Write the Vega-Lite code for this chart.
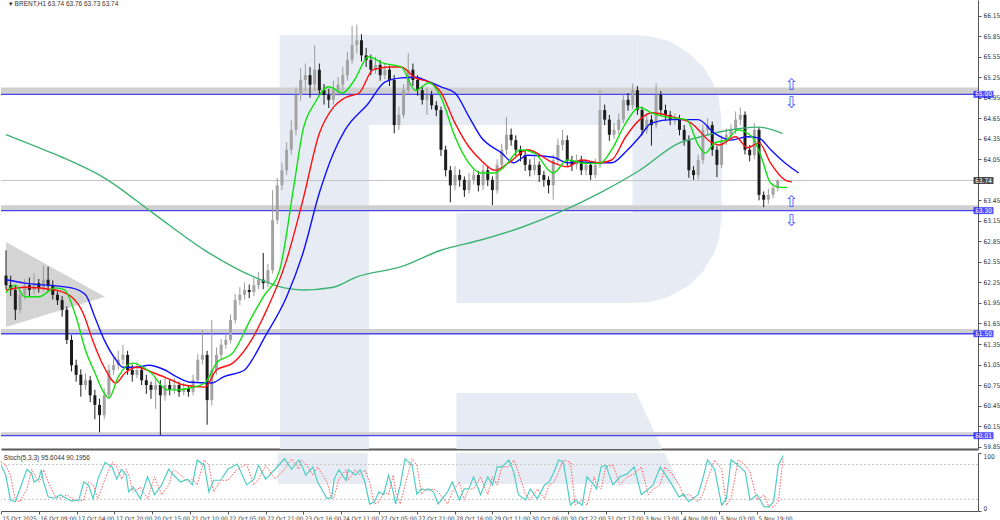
{
"$schema": "https://vega.github.io/schema/vega-lite/v6.json",
"padding": 0,
"background": "white",
"spacing": 1,
"resolve": {"scale": {"x": "independent", "y": "independent"}},
"config": {
 "view": {"stroke": null},
 "font": "Liberation Sans",
 "axis": {"labelFont": "'Liberation Sans Narrow', 'DejaVu Sans Condensed', 'Liberation Sans'", "labelFontSize": 6.5, "labelColor": "#333333", "tickColor": "#555555", "domainColor": "#555555", "grid": false, "labelOverlap": false, "labelBound": false},
 "text": {"font": "Liberation Sans"}
},
"datasets": {
 "candles": [
{"t":0,"o":62.35,"h":62.72,"l":62.15,"c":62.21},{"t":2,"o":62.21,"h":62.35,"l":62.05,"c":62.14},{"t":4,"o":62.14,"h":62.20,"l":61.70,"c":61.85},{"t":6,"o":61.85,"h":62.15,"l":61.80,"c":62.07},{"t":8,"o":62.07,"h":62.30,"l":62.00,"c":62.21},{"t":10,"o":62.21,"h":62.32,"l":62.05,"c":62.14},{"t":12,"o":62.14,"h":62.38,"l":62.08,"c":62.24},{"t":14,"o":62.24,"h":62.30,"l":62.10,"c":62.17},{"t":16,"o":62.17,"h":62.50,"l":62.12,"c":62.29},{"t":18,"o":62.29,"h":62.48,"l":62.12,"c":62.21},
{"t":20,"o":62.21,"h":62.28,"l":62.00,"c":62.07},{"t":22,"o":62.07,"h":62.12,"l":61.92,"c":61.99},{"t":24,"o":61.99,"h":62.05,"l":61.75,"c":61.85},{"t":26,"o":61.85,"h":61.90,"l":61.35,"c":61.41},{"t":28,"o":61.41,"h":61.48,"l":60.95,"c":61.04},{"t":30,"o":61.04,"h":61.12,"l":60.80,"c":60.90},{"t":32,"o":60.90,"h":60.98,"l":60.58,"c":60.75},{"t":34,"o":60.75,"h":60.92,"l":60.68,"c":60.82},{"t":36,"o":60.82,"h":60.88,"l":60.50,"c":60.60},{"t":38,"o":60.60,"h":60.68,"l":60.25,"c":60.46},
{"t":40,"o":60.46,"h":60.55,"l":60.06,"c":60.31},{"t":42,"o":60.31,"h":60.70,"l":60.25,"c":60.60},{"t":44,"o":60.60,"h":61.05,"l":60.55,"c":60.97},{"t":46,"o":60.97,"h":61.15,"l":60.90,"c":61.04},{"t":48,"o":61.04,"h":61.25,"l":60.98,"c":61.12},{"t":50,"o":61.12,"h":61.34,"l":61.05,"c":61.19},{"t":52,"o":61.19,"h":61.25,"l":60.90,"c":60.97},{"t":54,"o":60.97,"h":61.05,"l":60.80,"c":60.90},{"t":56,"o":60.90,"h":61.08,"l":60.85,"c":60.97},{"t":58,"o":60.97,"h":61.02,"l":60.75,"c":60.82},
{"t":60,"o":60.82,"h":60.90,"l":60.62,"c":60.75},{"t":62,"o":60.75,"h":60.80,"l":60.55,"c":60.68},{"t":64,"o":60.68,"h":60.85,"l":60.40,"c":60.75},{"t":66,"o":60.75,"h":60.82,"l":60.02,"c":60.60},{"t":68,"o":60.60,"h":60.85,"l":60.52,"c":60.75},{"t":70,"o":60.75,"h":60.82,"l":60.60,"c":60.68},{"t":72,"o":60.68,"h":60.85,"l":60.62,"c":60.75},{"t":74,"o":60.75,"h":60.80,"l":60.58,"c":60.65},{"t":76,"o":60.65,"h":60.78,"l":60.60,"c":60.70},{"t":78,"o":60.70,"h":60.75,"l":60.58,"c":60.65},
{"t":80,"o":60.65,"h":60.90,"l":60.60,"c":60.82},{"t":82,"o":60.82,"h":61.20,"l":60.78,"c":61.12},{"t":84,"o":61.12,"h":61.55,"l":61.05,"c":61.19},{"t":86,"o":61.19,"h":61.25,"l":60.17,"c":60.53},{"t":88,"o":60.53,"h":61.70,"l":60.45,"c":60.97},{"t":90,"o":60.97,"h":61.30,"l":60.90,"c":61.19},{"t":92,"o":61.19,"h":61.42,"l":61.12,"c":61.34},{"t":94,"o":61.34,"h":61.50,"l":61.28,"c":61.41},{"t":96,"o":61.41,"h":61.78,"l":61.36,"c":61.70},{"t":98,"o":61.70,"h":62.08,"l":61.65,"c":61.99},
{"t":100,"o":61.99,"h":62.18,"l":61.92,"c":62.07},{"t":102,"o":62.07,"h":62.25,"l":62.00,"c":62.14},{"t":104,"o":62.14,"h":62.22,"l":62.02,"c":62.11},{"t":106,"o":62.11,"h":62.32,"l":62.05,"c":62.21},{"t":108,"o":62.21,"h":62.40,"l":62.15,"c":62.29},{"t":110,"o":62.29,"h":62.68,"l":62.15,"c":62.24},{"t":112,"o":62.24,"h":62.52,"l":62.18,"c":62.43},{"t":114,"o":62.43,"h":63.60,"l":62.38,"c":63.16},{"t":116,"o":63.16,"h":63.78,"l":63.10,"c":63.67},{"t":118,"o":63.67,"h":64.00,"l":63.60,"c":63.89},
{"t":120,"o":63.89,"h":64.30,"l":63.82,"c":64.19},{"t":122,"o":64.19,"h":64.62,"l":64.12,"c":64.48},{"t":124,"o":64.48,"h":65.10,"l":64.40,"c":64.99},{"t":126,"o":64.99,"h":65.38,"l":64.90,"c":65.21},{"t":128,"o":65.21,"h":65.45,"l":65.05,"c":65.28},{"t":130,"o":65.28,"h":65.40,"l":64.95,"c":65.14},{"t":132,"o":65.14,"h":65.72,"l":65.05,"c":65.36},{"t":134,"o":65.36,"h":65.45,"l":64.98,"c":65.06},{"t":136,"o":65.06,"h":65.15,"l":64.85,"c":64.99},{"t":138,"o":64.99,"h":65.08,"l":64.80,"c":64.92},
{"t":140,"o":64.92,"h":65.20,"l":64.85,"c":65.06},{"t":142,"o":65.06,"h":65.25,"l":64.98,"c":65.14},{"t":144,"o":65.14,"h":65.40,"l":65.05,"c":65.28},{"t":146,"o":65.28,"h":65.62,"l":65.20,"c":65.50},{"t":148,"o":65.50,"h":66.00,"l":65.45,"c":65.72},{"t":150,"o":65.72,"h":66.02,"l":65.60,"c":65.79},{"t":152,"o":65.79,"h":65.88,"l":65.48,"c":65.57},{"t":154,"o":65.57,"h":65.68,"l":65.40,"c":65.50},{"t":156,"o":65.50,"h":65.58,"l":65.28,"c":65.36},{"t":158,"o":65.36,"h":65.55,"l":65.30,"c":65.43},
{"t":160,"o":65.43,"h":65.50,"l":65.20,"c":65.28},{"t":162,"o":65.28,"h":65.45,"l":65.22,"c":65.36},{"t":164,"o":65.36,"h":65.42,"l":65.12,"c":65.21},{"t":166,"o":65.21,"h":65.28,"l":64.43,"c":64.55},{"t":168,"o":64.55,"h":64.82,"l":64.48,"c":64.70},{"t":170,"o":64.70,"h":65.15,"l":64.65,"c":65.06},{"t":172,"o":65.06,"h":65.60,"l":65.00,"c":65.36},{"t":174,"o":65.36,"h":65.45,"l":65.12,"c":65.21},{"t":176,"o":65.21,"h":65.28,"l":64.98,"c":65.06},{"t":178,"o":65.06,"h":65.12,"l":64.85,"c":64.92},
{"t":180,"o":64.92,"h":65.10,"l":64.70,"c":64.99},{"t":182,"o":64.99,"h":65.05,"l":64.78,"c":64.84},{"t":184,"o":64.84,"h":64.90,"l":64.68,"c":64.77},{"t":186,"o":64.77,"h":64.82,"l":64.10,"c":64.19},{"t":188,"o":64.19,"h":64.25,"l":63.80,"c":63.89},{"t":190,"o":63.89,"h":63.95,"l":63.42,"c":63.67},{"t":192,"o":63.67,"h":63.95,"l":63.60,"c":63.82},{"t":194,"o":63.82,"h":63.90,"l":63.65,"c":63.75},{"t":196,"o":63.75,"h":63.80,"l":63.50,"c":63.60},{"t":198,"o":63.60,"h":63.85,"l":63.55,"c":63.75},
{"t":200,"o":63.75,"h":63.92,"l":63.68,"c":63.82},{"t":202,"o":63.82,"h":63.88,"l":63.58,"c":63.67},{"t":204,"o":63.67,"h":63.98,"l":63.60,"c":63.89},{"t":206,"o":63.89,"h":63.95,"l":63.66,"c":63.75},{"t":208,"o":63.75,"h":63.80,"l":63.38,"c":63.60},{"t":210,"o":63.60,"h":64.05,"l":63.55,"c":63.97},{"t":212,"o":63.97,"h":64.28,"l":63.90,"c":64.19},{"t":214,"o":64.19,"h":64.67,"l":64.12,"c":64.41},{"t":216,"o":64.41,"h":64.50,"l":64.25,"c":64.33},{"t":218,"o":64.33,"h":64.40,"l":64.10,"c":64.19},
{"t":220,"o":64.19,"h":64.25,"l":64.02,"c":64.11},{"t":222,"o":64.11,"h":64.18,"l":63.88,"c":63.97},{"t":224,"o":63.97,"h":64.05,"l":63.80,"c":63.89},{"t":226,"o":63.89,"h":64.08,"l":63.82,"c":63.97},{"t":228,"o":63.97,"h":64.02,"l":63.72,"c":63.82},{"t":230,"o":63.82,"h":63.88,"l":63.65,"c":63.75},{"t":232,"o":63.75,"h":63.80,"l":63.55,"c":63.67},{"t":234,"o":63.67,"h":64.12,"l":63.46,"c":64.04},{"t":236,"o":64.04,"h":64.35,"l":63.98,"c":64.26},{"t":238,"o":64.26,"h":64.48,"l":64.18,"c":64.33},
{"t":240,"o":64.33,"h":64.40,"l":63.95,"c":64.04},{"t":242,"o":64.04,"h":64.10,"l":63.88,"c":63.97},{"t":244,"o":63.97,"h":64.12,"l":63.90,"c":64.04},{"t":246,"o":64.04,"h":64.10,"l":63.82,"c":63.89},{"t":248,"o":63.89,"h":64.05,"l":63.82,"c":63.97},{"t":250,"o":63.97,"h":64.02,"l":63.75,"c":63.82},{"t":252,"o":63.82,"h":64.06,"l":63.78,"c":63.97},{"t":254,"o":63.97,"h":65.06,"l":63.92,"c":64.77},{"t":256,"o":64.77,"h":64.85,"l":64.55,"c":64.63},{"t":258,"o":64.63,"h":64.70,"l":64.32,"c":64.41},
{"t":260,"o":64.41,"h":64.58,"l":64.35,"c":64.48},{"t":262,"o":64.48,"h":64.72,"l":64.42,"c":64.63},{"t":264,"o":64.63,"h":65.00,"l":64.58,"c":64.92},{"t":266,"o":64.92,"h":65.02,"l":64.76,"c":64.84},{"t":268,"o":64.84,"h":65.16,"l":64.78,"c":65.06},{"t":270,"o":65.06,"h":65.12,"l":64.70,"c":64.77},{"t":272,"o":64.77,"h":64.82,"l":64.40,"c":64.48},{"t":274,"o":64.48,"h":64.72,"l":64.42,"c":64.63},{"t":276,"o":64.63,"h":64.70,"l":64.25,"c":64.55},{"t":278,"o":64.55,"h":65.16,"l":64.50,"c":64.99},
{"t":280,"o":64.99,"h":65.05,"l":64.70,"c":64.77},{"t":282,"o":64.77,"h":64.85,"l":64.62,"c":64.70},{"t":284,"o":64.70,"h":64.76,"l":64.55,"c":64.63},{"t":286,"o":64.63,"h":64.72,"l":64.56,"c":64.65},{"t":288,"o":64.65,"h":64.70,"l":64.40,"c":64.48},{"t":290,"o":64.48,"h":64.55,"l":64.25,"c":64.33},{"t":292,"o":64.33,"h":64.40,"l":63.78,"c":63.89},{"t":294,"o":63.89,"h":63.95,"l":63.75,"c":63.82},{"t":296,"o":63.82,"h":64.12,"l":63.76,"c":64.04},{"t":298,"o":64.04,"h":64.56,"l":63.98,"c":64.48},
{"t":300,"o":64.48,"h":64.65,"l":64.40,"c":64.55},{"t":302,"o":64.55,"h":64.60,"l":64.10,"c":64.19},{"t":304,"o":64.19,"h":64.25,"l":63.79,"c":63.97},{"t":306,"o":63.97,"h":64.40,"l":63.92,"c":64.33},{"t":308,"o":64.33,"h":64.50,"l":64.26,"c":64.41},{"t":310,"o":64.41,"h":64.56,"l":64.35,"c":64.48},{"t":312,"o":64.48,"h":64.75,"l":64.42,"c":64.63},{"t":314,"o":64.63,"h":64.81,"l":64.55,"c":64.70},{"t":316,"o":64.70,"h":64.75,"l":64.12,"c":64.19},{"t":318,"o":64.19,"h":64.26,"l":64.02,"c":64.11},
{"t":320,"o":64.11,"h":64.58,"l":64.05,"c":64.48},{"t":322,"o":64.48,"h":64.52,"l":63.45,"c":63.53},{"t":324,"o":63.53,"h":63.58,"l":63.35,"c":63.46},{"t":326,"o":63.46,"h":63.62,"l":63.40,"c":63.53},{"t":328,"o":63.53,"h":63.70,"l":63.48,"c":63.63},{"t":330,"o":63.63,"h":63.76,"l":63.58,"c":63.74}
 ],
 "maLong": [
{"t":0,"v":64.41},{"t":14,"v":64.22},{"t":24,"v":64.08},{"t":42,"v":63.78},{"t":63,"v":63.26},{"t":85,"v":62.72},{"t":106,"v":62.33},{"t":119,"v":62.17},{"t":127,"v":62.14},{"t":140,"v":62.18},{"t":150,"v":62.33},{"t":169,"v":62.48},{"t":186,"v":62.72},{"t":203,"v":62.87},{"t":220,"v":63.05},{"t":237,"v":63.28},{"t":254,"v":63.56},{"t":271,"v":63.89},{"t":288,"v":64.29},{"t":297,"v":64.38},{"t":305,"v":64.45},{"t":314,"v":64.50},{"t":322,"v":64.52},{"t":332,"v":64.43}
 ],
 "maBlue": [
{"t":0,"v":62.29},{"t":8,"v":62.24},{"t":28,"v":62.17},{"t":34,"v":62.07},{"t":38,"v":61.74},{"t":42,"v":61.41},{"t":47,"v":61.12},{"t":50,"v":61.01},{"t":56,"v":61.01},{"t":61,"v":61.04},{"t":68,"v":60.97},{"t":73,"v":60.87},{"t":79,"v":60.79},{"t":88,"v":60.78},{"t":93,"v":60.87},{"t":102,"v":60.97},{"t":106,"v":61.16},{"t":110,"v":61.41},{"t":120,"v":62.04},{"t":127,"v":62.68},{"t":134,"v":63.56},{"t":140,"v":64.14},{"t":145,"v":64.48},{"t":155,"v":64.87},{"t":162,"v":65.18},{"t":169,"v":65.24},{"t":175,"v":65.25},{"t":181,"v":65.18},{"t":186,"v":65.11},{"t":192,"v":65.02},{"t":198,"v":64.67},{"t":203,"v":64.38},{"t":212,"v":64.14},{"t":217,"v":64.00},{"t":223,"v":64.11},{"t":234,"v":64.08},{"t":240,"v":64.00},{"t":246,"v":64.01},{"t":254,"v":64.00},{"t":259,"v":64.00},{"t":265,"v":64.16},{"t":271,"v":64.38},{"t":276,"v":64.58},{"t":285,"v":64.63},{"t":296,"v":64.63},{"t":303,"v":64.43},{"t":310,"v":64.33},{"t":317,"v":64.38},{"t":322,"v":64.36},{"t":327,"v":64.19},{"t":333,"v":64.00},{"t":339,"v":63.85}
 ],
 "maRed": [
{"t":0,"v":62.14},{"t":8,"v":62.18},{"t":21,"v":62.14},{"t":28,"v":62.04},{"t":33,"v":61.80},{"t":37,"v":61.41},{"t":42,"v":61.01},{"t":47,"v":60.78},{"t":51,"v":60.93},{"t":56,"v":61.01},{"t":63,"v":60.93},{"t":71,"v":60.82},{"t":76,"v":60.75},{"t":85,"v":60.72},{"t":90,"v":60.97},{"t":97,"v":61.07},{"t":105,"v":61.41},{"t":110,"v":61.74},{"t":120,"v":62.58},{"t":127,"v":63.46},{"t":134,"v":64.43},{"t":140,"v":64.81},{"t":145,"v":64.95},{"t":151,"v":65.02},{"t":157,"v":65.36},{"t":164,"v":65.40},{"t":169,"v":65.40},{"t":175,"v":65.24},{"t":181,"v":65.18},{"t":186,"v":65.03},{"t":192,"v":64.58},{"t":198,"v":64.23},{"t":203,"v":64.04},{"t":209,"v":63.89},{"t":215,"v":64.00},{"t":223,"v":64.19},{"t":234,"v":64.00},{"t":240,"v":63.94},{"t":246,"v":64.04},{"t":254,"v":64.00},{"t":259,"v":64.04},{"t":265,"v":64.38},{"t":271,"v":64.63},{"t":276,"v":64.73},{"t":285,"v":64.67},{"t":293,"v":64.58},{"t":302,"v":64.29},{"t":305,"v":64.26},{"t":312,"v":64.38},{"t":317,"v":64.22},{"t":322,"v":64.29},{"t":327,"v":63.99},{"t":333,"v":63.75},{"t":336,"v":63.72}
 ],
 "maGreen": [
{"t":0,"v":62.10},{"t":4,"v":62.21},{"t":8,"v":62.04},{"t":14,"v":62.04},{"t":21,"v":62.17},{"t":25,"v":62.14},{"t":30,"v":61.74},{"t":34,"v":61.26},{"t":38,"v":60.93},{"t":42,"v":60.63},{"t":44,"v":60.56},{"t":48,"v":60.87},{"t":54,"v":61.07},{"t":62,"v":60.93},{"t":69,"v":60.68},{"t":73,"v":60.68},{"t":79,"v":60.71},{"t":85,"v":60.78},{"t":90,"v":61.07},{"t":97,"v":61.22},{"t":105,"v":61.74},{"t":110,"v":62.04},{"t":117,"v":62.43},{"t":123,"v":63.64},{"t":127,"v":64.48},{"t":132,"v":64.87},{"t":138,"v":65.11},{"t":144,"v":65.02},{"t":149,"v":65.21},{"t":155,"v":65.55},{"t":161,"v":65.46},{"t":169,"v":65.40},{"t":175,"v":65.06},{"t":181,"v":65.17},{"t":186,"v":64.96},{"t":192,"v":64.38},{"t":198,"v":63.99},{"t":203,"v":63.85},{"t":209,"v":63.85},{"t":213,"v":63.94},{"t":220,"v":64.19},{"t":226,"v":64.14},{"t":234,"v":63.85},{"t":240,"v":64.04},{"t":248,"v":63.99},{"t":254,"v":63.99},{"t":259,"v":64.19},{"t":265,"v":64.58},{"t":271,"v":64.81},{"t":276,"v":64.73},{"t":282,"v":64.67},{"t":291,"v":64.63},{"t":296,"v":64.26},{"t":299,"v":64.14},{"t":303,"v":64.29},{"t":308,"v":64.33},{"t":313,"v":64.48},{"t":319,"v":64.38},{"t":323,"v":64.08},{"t":327,"v":63.70},{"t":331,"v":63.64},{"t":334,"v":63.64}
 ],
 "stoch": [
{"t":0,"k":79,"d":85},{"t":2,"k":62,"d":79},{"t":4,"k":19,"d":62},{"t":6,"k":16,"d":19},{"t":8,"k":38,"d":16},{"t":11,"k":72,"d":38},{"t":13,"k":64,"d":72},{"t":14,"k":50,"d":64},{"t":16,"k":55,"d":50},{"t":17,"k":71,"d":55},{"t":18,"k":50,"d":71},{"t":20,"k":24,"d":50},{"t":23,"k":22,"d":24},{"t":25,"k":28,"d":22},{"t":28,"k":21,"d":28},{"t":30,"k":17,"d":21},{"t":33,"k":19,"d":17},{"t":35,"k":50,"d":19},{"t":37,"k":45,"d":50},{"t":39,"k":21,"d":45},{"t":41,"k":55,"d":21},{"t":44,"k":84,"d":55},{"t":47,"k":76,"d":84},{"t":49,"k":55,"d":76},{"t":51,"k":72,"d":55},{"t":53,"k":62,"d":72},{"t":54,"k":33,"d":62},{"t":56,"k":41,"d":33},{"t":59,"k":21,"d":41},{"t":62,"k":59,"d":21},{"t":65,"k":28,"d":59},{"t":68,"k":45,"d":28},{"t":71,"k":72,"d":45},{"t":73,"k":62,"d":72},{"t":76,"k":50,"d":62},{"t":79,"k":55,"d":50},{"t":81,"k":45,"d":55},{"t":83,"k":88,"d":45},{"t":86,"k":79,"d":88},{"t":88,"k":33,"d":79},{"t":90,"k":53,"d":33},{"t":93,"k":53,"d":53},{"t":96,"k":72,"d":53},{"t":100,"k":81,"d":72},{"t":104,"k":45,"d":81},{"t":107,"k":55,"d":45},{"t":109,"k":79,"d":55},{"t":112,"k":55,"d":79},{"t":116,"k":72,"d":55},{"t":120,"k":90,"d":72},{"t":123,"k":72,"d":90},{"t":126,"k":88,"d":72},{"t":127,"k":81,"d":88},{"t":129,"k":62,"d":81},{"t":132,"k":76,"d":62},{"t":134,"k":50,"d":76},{"t":138,"k":21,"d":50},{"t":140,"k":24,"d":21},{"t":141,"k":55,"d":24},{"t":143,"k":71,"d":55},{"t":146,"k":53,"d":71},{"t":147,"k":71,"d":53},{"t":150,"k":62,"d":71},{"t":152,"k":71,"d":62},{"t":154,"k":50,"d":71},{"t":156,"k":12,"d":50},{"t":158,"k":16,"d":12},{"t":160,"k":33,"d":16},{"t":162,"k":28,"d":33},{"t":164,"k":62,"d":28},{"t":166,"k":33,"d":62},{"t":167,"k":12,"d":33},{"t":169,"k":45,"d":12},{"t":171,"k":90,"d":45},{"t":174,"k":79,"d":90},{"t":176,"k":29,"d":79},{"t":178,"k":38,"d":29},{"t":180,"k":36,"d":38},{"t":181,"k":38,"d":36},{"t":183,"k":33,"d":38},{"t":185,"k":12,"d":33},{"t":189,"k":33,"d":12},{"t":191,"k":50,"d":33},{"t":194,"k":19,"d":50},{"t":196,"k":38,"d":19},{"t":198,"k":38,"d":38},{"t":200,"k":59,"d":38},{"t":203,"k":28,"d":59},{"t":206,"k":59,"d":28},{"t":208,"k":45,"d":59},{"t":210,"k":76,"d":45},{"t":212,"k":76,"d":76},{"t":215,"k":88,"d":76},{"t":217,"k":67,"d":88},{"t":219,"k":28,"d":67},{"t":222,"k":19,"d":28},{"t":224,"k":38,"d":19},{"t":227,"k":21,"d":38},{"t":230,"k":45,"d":21},{"t":232,"k":50,"d":45},{"t":234,"k":67,"d":50},{"t":236,"k":88,"d":67},{"t":238,"k":84,"d":88},{"t":241,"k":10,"d":84},{"t":243,"k":19,"d":10},{"t":246,"k":10,"d":19},{"t":248,"k":59,"d":10},{"t":251,"k":45,"d":59},{"t":252,"k":38,"d":45},{"t":254,"k":76,"d":38},{"t":256,"k":79,"d":76},{"t":259,"k":45,"d":79},{"t":262,"k":59,"d":45},{"t":265,"k":64,"d":59},{"t":268,"k":76,"d":64},{"t":271,"k":28,"d":76},{"t":274,"k":38,"d":28},{"t":276,"k":45,"d":38},{"t":279,"k":76,"d":45},{"t":281,"k":64,"d":76},{"t":284,"k":45,"d":64},{"t":287,"k":24,"d":45},{"t":289,"k":29,"d":24},{"t":291,"k":16,"d":29},{"t":295,"k":28,"d":16},{"t":297,"k":55,"d":28},{"t":299,"k":88,"d":55},{"t":302,"k":72,"d":88},{"t":305,"k":10,"d":72},{"t":307,"k":21,"d":10},{"t":309,"k":88,"d":21},{"t":312,"k":79,"d":88},{"t":315,"k":67,"d":79},{"t":317,"k":19,"d":67},{"t":320,"k":28,"d":19},{"t":323,"k":7,"d":28},{"t":325,"k":7,"d":7},{"t":327,"k":16,"d":7},{"t":329,"k":79,"d":16},{"t":331,"k":95.6,"d":90.2}
 ],
 "wmRect": [
{"t1":117.1,"t2":155.2,"p1":59.0,"p2":65.867},{"t1":117.1,"t2":268.0,"p1":64.551,"p2":65.867},{"t1":192.6,"t2":268.5,"p1":61.949,"p2":63.265}
 ],
 "wmArea": [
{"g":"bowl","t":267.9,"top":65.867,"bot":61.949},{"g":"bowl","t":275.1,"top":65.85,"bot":61.96},{"g":"bowl","t":283.6,"top":65.78,"bot":62.04},{"g":"bowl","t":292.1,"top":65.60,"bot":62.21},{"g":"bowl","t":298.4,"top":65.39,"bot":62.43},{"g":"bowl","t":302.6,"top":65.15,"bot":62.67},{"g":"bowl","t":304.8,"top":64.95,"bot":62.87},{"g":"bowl","t":306.0,"top":64.63,"bot":63.19},
{"g":"leg","t":192.6,"top":60.633,"bot":59.0},{"g":"leg","t":269.6,"top":60.633,"bot":59.0},{"g":"leg","t":280.6,"top":59.815,"bot":59.0}
 ],
 "tri": [{"t":0,"top":62.84,"bot":61.60},{"t":42.3,"top":62.04,"bot":62.04}],
 "bands": [{"p":65.00,"p2":65.10},{"p":63.30,"p2":63.38},{"p":61.50,"p2":61.57},{"p":60.01,"p2":60.06}],
 "tags": [{"p":65.00},{"p":63.74},{"p":63.30},{"p":61.50},{"p":60.01}],
 "arrows": [{"t":335.8,"p":65.14,"s":"⇧"},{"t":335.8,"p":64.88,"s":"⇩"},{"t":335.8,"p":63.42,"s":"⇧"},{"t":335.8,"p":63.15,"s":"⇩"}]
},
"vconcat": [
{
 "width": 977, "height": 449,
 "layer": [
  {"data": {"name": "wmRect"}, "mark": {"type": "rect", "color": "#e7ecf4", "clip": true},
   "encoding": {
    "x": {"field": "t1", "type": "quantitative", "title": null, "scale": {"domain": [0, 413.5], "nice": false, "zero": false},
          "axis": {"labels": false, "ticks": false, "grid": false, "domainColor": "#5a5a5a", "domainWidth": 2, "title": null}},
    "x2": {"field": "t2"},
    "y": {"field": "p1", "type": "quantitative", "title": null, "scale": {"domain": [59.815, 66.379], "nice": false, "zero": false},
          "axis": {"orient": "right", "title": null, "values": [59.85,60.15,60.45,60.75,61.05,61.35,61.65,61.95,62.25,62.55,62.85,63.15,63.45,64.05,64.35,64.65,64.95,65.25,65.55,65.85,66.15], "tickCount": 40, "format": ".2f", "grid": false, "tickSize": 3, "labelPadding": 2, "labelOverlap": false, "labelFlush": false, "labelBound": false}},
    "y2": {"field": "p2"}
   }},
  {"data": {"name": "wmArea"}, "mark": {"type": "area", "color": "#e7ecf4", "clip": true, "orient": "vertical", "opacity": 1},
   "encoding": {"x": {"field": "t", "type": "quantitative", "title": null}, "y": {"field": "top", "type": "quantitative", "title": null}, "y2": {"field": "bot"}, "detail": {"field": "g"}}},
  {"data": {"name": "tri"}, "mark": {"type": "area", "color": "#d4d4d4", "clip": true, "orient": "vertical", "opacity": 1},
   "encoding": {"x": {"field": "t", "type": "quantitative", "title": null}, "y": {"field": "top", "type": "quantitative", "title": null}, "y2": {"field": "bot"}}},
  {"data": {"name": "bands"}, "mark": {"type": "rect", "color": "#d0d0d0"},
   "encoding": {"y": {"field": "p", "type": "quantitative", "title": null}, "y2": {"field": "p2"}}},
  {"data": {"name": "bands"}, "mark": {"type": "rule", "color": "#4646f0", "strokeWidth": 1.4},
   "encoding": {"y": {"field": "p", "type": "quantitative", "title": null}}},
  {"data": {"values": [{"p": 63.74}]}, "mark": {"type": "rule", "color": "#c6c6c6", "strokeWidth": 1},
   "encoding": {"y": {"field": "p", "type": "quantitative", "title": null}}},
  {"data": {"name": "candles"}, "mark": {"type": "rule", "strokeWidth": 1, "clip": true},
   "encoding": {"x": {"field": "t", "type": "quantitative", "title": null}, "y": {"field": "l", "type": "quantitative", "title": null}, "y2": {"field": "h"},
    "color": {"condition": {"test": "datum.c >= datum.o", "value": "#9a9a9a"}, "value": "#1c1c1c"}}},
  {"data": {"name": "candles"}, "mark": {"type": "bar", "size": 3, "clip": true},
   "encoding": {"x": {"field": "t", "type": "quantitative", "title": null}, "y": {"field": "o", "type": "quantitative", "title": null}, "y2": {"field": "c"},
    "color": {"condition": {"test": "datum.c >= datum.o", "value": "#a3a3a3"}, "value": "#1c1c1c"}}},
  {"data": {"name": "maLong"}, "mark": {"type": "line", "color": "#3cb371", "strokeWidth": 1.4, "interpolate": "monotone", "clip": true},
   "encoding": {"x": {"field": "t", "type": "quantitative", "title": null}, "y": {"field": "v", "type": "quantitative", "title": null}}},
  {"data": {"name": "maBlue"}, "mark": {"type": "line", "color": "#1010ff", "strokeWidth": 1.4, "interpolate": "monotone", "clip": true},
   "encoding": {"x": {"field": "t", "type": "quantitative", "title": null}, "y": {"field": "v", "type": "quantitative", "title": null}}},
  {"data": {"name": "maRed"}, "mark": {"type": "line", "color": "#ff1010", "strokeWidth": 1.4, "interpolate": "monotone", "clip": true},
   "encoding": {"x": {"field": "t", "type": "quantitative", "title": null}, "y": {"field": "v", "type": "quantitative", "title": null}}},
  {"data": {"name": "maGreen"}, "mark": {"type": "line", "color": "#10e010", "strokeWidth": 1.4, "interpolate": "monotone", "clip": true},
   "encoding": {"x": {"field": "t", "type": "quantitative", "title": null}, "y": {"field": "v", "type": "quantitative", "title": null}}},
  {"data": {"name": "arrows"}, "mark": {"type": "text", "font": "DejaVu Sans", "fontSize": 16, "color": "#3f5cff", "align": "center", "baseline": "middle"},
   "encoding": {"x": {"field": "t", "type": "quantitative", "title": null}, "y": {"field": "p", "type": "quantitative", "title": null}, "text": {"field": "s"}}},
  {"data": {"name": "tags"}, "mark": {"type": "tick", "orient": "horizontal", "size": 20, "thickness": 7},
   "encoding": {"x": {"datum": 418.0}, "y": {"field": "p", "type": "quantitative", "title": null},
    "color": {"condition": {"test": "datum.p == 63.74", "value": "#000000"}, "value": "#0a0aff"}}},
  {"data": {"name": "tags"}, "mark": {"type": "text", "fontSize": 6.5, "font": "'Liberation Sans Narrow', 'DejaVu Sans Condensed', 'Liberation Sans'", "color": "#ffffff", "align": "center", "baseline": "middle"},
   "encoding": {"x": {"datum": 418.0}, "y": {"field": "p", "type": "quantitative", "title": null}, "text": {"field": "p", "format": ".2f"}}},
  {"data": {"values": [{"t": 1.2, "p": 66.32, "s": "▾ BRENT,H1  63.74 63.76 63.73 63.74"}]}, "mark": {"type": "text", "fontSize": 6.5, "color": "#333333", "align": "left", "baseline": "middle"},
   "encoding": {"x": {"field": "t", "type": "quantitative", "title": null}, "y": {"field": "p", "type": "quantitative", "title": null}, "text": {"field": "s"}}}
 ]
},
{
 "width": 977, "height": 58,
 "layer": [
  {"data": {"values": [{"t1": 117.1, "t2": 155.2, "y1": 46.6, "y2": 100}]}, "mark": {"type": "rect", "color": "#e7ecf4", "clip": true},
   "encoding": {
    "x": {"field": "t1", "type": "quantitative", "title": null, "scale": {"domain": [0, 413.5], "nice": false, "zero": false},
          "axis": {"title": null, "values": [0,16,32,48,64,80,96,112,128,144,160,176,192,208,224,240,256,272,288,304,320], "tickCount": 40,
                   "labelExpr": "['15 Oct 2025','16 Oct 09:00','17 Oct 04:00','17 Oct 20:00','20 Oct 15:00','21 Oct 10:00','22 Oct 05:00','22 Oct 21:00','23 Oct 16:00','24 Oct 11:00','27 Oct 05:00','27 Oct 21:00','28 Oct 16:00','29 Oct 11:00','30 Oct 06:00','30 Oct 22:00','31 Oct 17:00','3 Nov 13:00','4 Nov 08:00','5 Nov 03:00','5 Nov 19:00'][round(datum.value/16)]",
                   "labelAlign": "left", "labelOffset": 1, "labelPadding": 1, "labelFontSize": 6.2, "tickSize": 3, "grid": false, "labelOverlap": false, "labelFlush": false, "labelBound": false}},
    "x2": {"field": "t2"},
    "y": {"field": "y1", "type": "quantitative", "title": null, "scale": {"domain": [0, 100], "nice": false, "zero": false},
          "axis": {"orient": "right", "title": null, "values": [0, 20, 80, 100], "grid": false, "tickSize": 3, "labelPadding": 2, "labelFlush": true, "labelOverlap": false}},
    "y2": {"field": "y2"}
   }},
  {"data": {"values": [{"t": 192.6, "top": 100, "bot": 46.6}, {"t": 280.9, "top": 100, "bot": 46.6}, {"t": 287.0, "top": 46.6, "bot": 46.6}]},
   "mark": {"type": "area", "color": "#e7ecf4", "clip": true, "orient": "vertical", "opacity": 1},
   "encoding": {"x": {"field": "t", "type": "quantitative", "title": null}, "y": {"field": "top", "type": "quantitative", "title": null}, "y2": {"field": "bot"}}},
  {"data": {"values": [{"v": 20}, {"v": 80}]}, "mark": {"type": "rule", "color": "#c4c4c4", "strokeDash": [2, 2], "strokeWidth": 1},
   "encoding": {"y": {"field": "v", "type": "quantitative", "title": null}}},
  {"data": {"name": "stoch"}, "mark": {"type": "line", "color": "#ff5a5a", "strokeWidth": 1, "strokeDash": [1.5, 1.5], "clip": true},
   "encoding": {"x": {"field": "t", "type": "quantitative", "title": null}, "y": {"field": "d", "type": "quantitative", "title": null}}},
  {"data": {"name": "stoch"}, "mark": {"type": "line", "color": "#4fcdc4", "strokeWidth": 1.2, "clip": true},
   "encoding": {"x": {"field": "t", "type": "quantitative", "title": null}, "y": {"field": "k", "type": "quantitative", "title": null}}},
  {"data": {"values": [{"t": 1.2, "v": 91, "s": "Stoch(5,3,3) 95.6044 90.1956"}]}, "mark": {"type": "text", "fontSize": 6.5, "color": "#333333", "align": "left", "baseline": "middle"},
   "encoding": {"x": {"field": "t", "type": "quantitative", "title": null}, "y": {"field": "v", "type": "quantitative", "title": null}, "text": {"field": "s"}}}
 ]
}
]
}
